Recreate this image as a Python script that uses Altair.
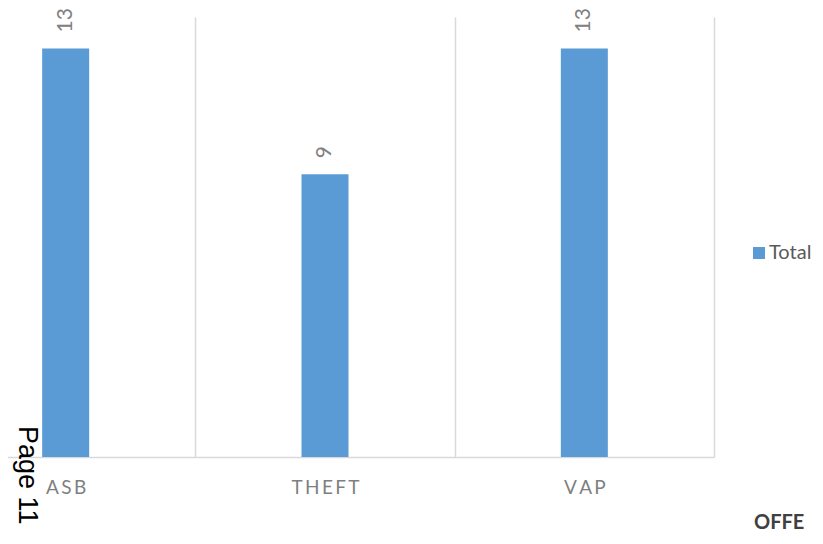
import altair as alt
import pandas as pd

# ---- data ----
categories = ["ASB", "THEFT", "VAP"]
totals = [13, 9, 13]
series_names = ["Total", "Total", "Total"]
page_label = ["Page 11"]
heading_label = ["OFFE"]

df = pd.DataFrame({"category": categories, "total": totals, "series": series_names})
page_df = pd.DataFrame({"text": page_label})
head_df = pd.DataFrame({"text": heading_label})

BLUE = "#5B9BD5"
GRID = "#d9d9d9"

x_enc = alt.X(
    "category:N",
    sort=categories,
    scale=alt.Scale(paddingInner=0, paddingOuter=0),
    axis=alt.Axis(
        title=None,
        tickBand="extent",
        grid=True,
        gridColor=GRID,
        gridWidth=1.5,
        domainColor=GRID,
        domainWidth=1.5,
        ticks=False,
        labelAngle=0,
        labelFont="Lato",
        labelFontSize=19,
        labelColor="#7f7f7f",
        labelPadding=21,
        labelExpr="join(split(datum.label, ''), '\u2009')",
    ),
)
y_enc = alt.Y("total:Q", scale=alt.Scale(domain=[0, 14], nice=False), axis=None)

bars = alt.Chart(df).mark_bar(size=47).encode(
    x=x_enc,
    y=y_enc,
    color=alt.Color(
        "series:N",
        scale=alt.Scale(range=[BLUE]),
        legend=alt.Legend(
            title=None,
            orient="none",
            legendX=813,
            legendY=226,
            symbolType="square",
            symbolSize=144,
            symbolStrokeWidth=0,
            labelFont="Lato",
            labelFontSize=20,
            labelColor="#595959",
            labelOffset=0,
            padding=0,
        ),
    ),
)

labels = alt.Chart(df).mark_text(
    angle=270, align="left", baseline="middle", dx=16,
    font="Lato", fontSize=21, color="#808080",
).encode(x=x_enc, y=y_enc, text="total:Q")

page_text = alt.Chart(page_df).mark_text(
    angle=90, align="left", baseline="alphabetic",
    font="Liberation Sans", fontSize=27, color="#000000",
).encode(x=alt.value(82.5), y=alt.value(409), text="text:N")

head_text = alt.Chart(head_df).mark_text(
    align="left", baseline="alphabetic",
    font="Lato", fontWeight="bold", fontSize=20, color="#404040",
).encode(x=alt.value(818), y=alt.value(512), text="text:N")

chart = alt.layer(bars, labels, page_text, head_text).properties(
    width=778,
    height=440,
    padding={"left": -72, "top": 9, "right": 101, "bottom": 79},
    autosize=alt.AutoSizeParams(type="none"),
).configure_view(strokeWidth=0)

chart.save("out.html", embed_options={"renderer": "svg", "actions": False})
